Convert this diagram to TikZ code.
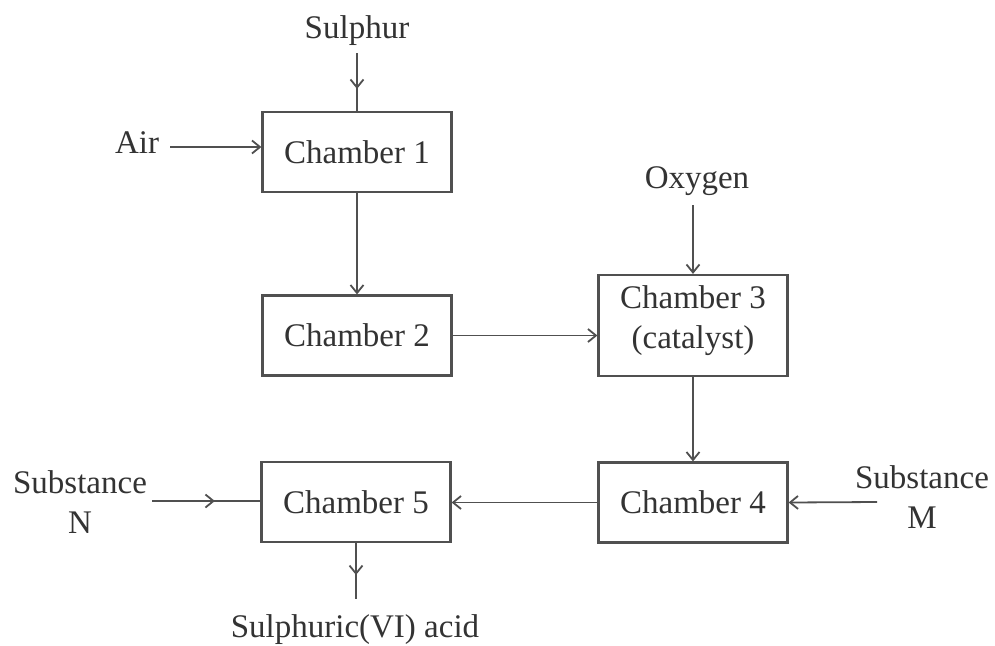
\documentclass[tikz,border=0pt]{standalone}
\usepackage{fontspec}
\setmainfont{Liberation Serif}
\usetikzlibrary{arrows.meta,decorations.markings}
\definecolor{linec}{HTML}{505050}
\definecolor{textc}{HTML}{333333}
\newcommand\diagfont{\fontsize{33}{40}\selectfont}
\begin{document}
\begin{tikzpicture}[x=1pt,y=-1pt,
  box/.style={draw=linec, line width=2.2pt, minimum width=189pt, minimum height=80pt, inner sep=0pt, font=\diagfont, text=textc, align=center},
  lbl/.style={text=textc, font=\diagfont, align=center, inner sep=0pt},
  flow/.style={draw=linec, line width=1.8pt, -{Straight Barb[length=8pt,width=13pt]}},
  midflow/.style={draw=linec, line width=1.8pt, postaction={decorate},
    decoration={markings, mark=at position #1 with {\arrow{Straight Barb[length=8pt,width=13pt]}}}}
]
\useasboundingbox[fill=white] (0,0) rectangle (995,645);

% chambers
\node[box] (c1) at (357,152) {Chamber 1};
\node[box] (c2) at (357,335.5) {Chamber 2};
\node[box, minimum height=101pt] (c3) at (693,325.5) {};
\node[lbl] (c3t) at (693,321) {Chamber 3\\(catalyst)};
\node[box] (c4) at (693,502.5) {Chamber 4};
\node[box] (c5) at (356,502) {Chamber 5};

% labels
\node[lbl, anchor=base] (sul) at (357,38) {Sulphur};
\node[lbl, anchor=base] (air) at (137,153) {Air};
\node[lbl, anchor=base] (oxy) at (697,188) {Oxygen};
\node[lbl] (subN) at (80,502) {Substance\\N};
\node[lbl] (subM) at (922,497) {Substance\\M};
\node[lbl, anchor=base] (acid) at (355,637) {Sulphuric(VI) acid};

% free ends
\coordinate (sIn) at (357,53);
\coordinate (aIn) at (170,147);
\coordinate (oIn) at (693,205);
\coordinate (mIn) at (877,502);
\coordinate (nIn) at (152,501);
\coordinate (acidOut) at (356,599);

% connectors
\draw[midflow=0.62] (sIn) -- (c1.north);
\draw[flow] (aIn) -- (aIn -| c1.west);
\draw[flow] (c1) -- (c2);
\draw[flow] (c2.east) -- (c2.east -| c3.west);
\draw[flow] (oIn) -- (c3.north);
\draw[flow] (c3) -- (c4);
\draw[flow] (mIn) -- (c4.east);
\draw[flow] (c4.west) -- (c4.west -| c5.east);
\draw[midflow=0.58] (nIn) -- (nIn -| c5.west);
\draw[midflow=0.57] (c5) -- (acidOut);
\end{tikzpicture}
\end{document}
